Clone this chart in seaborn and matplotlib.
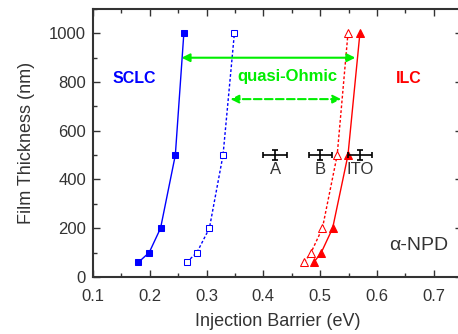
import numpy as np
import pandas as pd
import matplotlib
matplotlib.use("Agg")
import matplotlib.pyplot as plt
import seaborn as sns
from matplotlib.ticker import MultipleLocator

# film thickness (nm) and injection barrier (eV) for each data set
thickness = [60, 100, 200, 500, 1000]
sclc_solid = [0.180, 0.199, 0.219, 0.245, 0.260]
sclc_open = [0.265, 0.283, 0.305, 0.329, 0.349]
ilc_open = [0.472, 0.484, 0.504, 0.530, 0.549]
ilc_solid = [0.489, 0.502, 0.522, 0.549, 0.570]

# electrode barriers with error bars
electrodes = ["A", "B", "ITO"]
electrode_x = [0.421, 0.500, 0.570]
electrode_y = [500, 500, 500]
electrode_xerr = [0.021, 0.020, 0.021]
electrode_yerr = [22, 22, 22]

sns.set_style("ticks")
plt.rcParams["font.family"] = ["Liberation Sans", "DejaVu Sans"]

fig = plt.figure(figsize=(4.58, 3.34), dpi=100)
ax = fig.add_axes([0.203, 0.171, 0.806, 0.802])

df = pd.DataFrame({"thickness": thickness, "sclc_solid": sclc_solid,
                   "sclc_open": sclc_open, "ilc_open": ilc_open,
                   "ilc_solid": ilc_solid})

blue = "#0000ff"
red = "#ff0000"
green = "#00ee00"
txt = "#333333"

sns.lineplot(data=df, x="sclc_solid", y="thickness", ax=ax, color=blue, lw=1,
             marker="s", markersize=4.5, markerfacecolor=blue, markeredgecolor=blue,
             sort=False)
sns.lineplot(data=df, x="sclc_open", y="thickness", ax=ax, color=blue, lw=1,
             linestyle=(0, (2, 1.5)), marker="s", markersize=4.5,
             markerfacecolor="white", markeredgecolor=blue, sort=False)
sns.lineplot(data=df, x="ilc_open", y="thickness", ax=ax, color=red, lw=1,
             linestyle=(0, (2, 1.5)), marker="^", markersize=5.5,
             markerfacecolor="white", markeredgecolor=red, sort=False)
sns.lineplot(data=df, x="ilc_solid", y="thickness", ax=ax, color=red, lw=1,
             marker="^", markersize=5.5, markerfacecolor=red, markeredgecolor=red,
             sort=False)

ax.errorbar(electrode_x, electrode_y, xerr=electrode_xerr, yerr=electrode_yerr,
            fmt="none", ecolor="black", elinewidth=1.2, capsize=2.5, capthick=1.2)
for name, x in zip(electrodes, electrode_x):
    ax.text(x, 470, name, ha="center", va="top", fontsize=12, color=txt)

# quasi-Ohmic arrows
ax.annotate("", xy=(0.256, 900), xytext=(0.562, 900),
            arrowprops=dict(arrowstyle="<|-|>", color=green, lw=1.5,
                            mutation_scale=12, shrinkA=0, shrinkB=0))
ax.annotate("", xy=(0.342, 730), xytext=(0.537, 730),
            arrowprops=dict(arrowstyle="<|-|>", color=green, lw=1.5, ls="--",
                            mutation_scale=12, shrinkA=0, shrinkB=0))

ax.text(0.173, 815, "SCLC", color=blue, fontsize=11.5, fontweight="bold",
        ha="center", va="center")
ax.text(0.443, 822, "quasi-Ohmic", color=green, fontsize=12, fontweight="bold",
        ha="center", va="center")
ax.text(0.656, 815, "ILC", color=red, fontsize=11.5, fontweight="bold",
        ha="center", va="center")
ax.text(0.674, 128, "\u03b1-NPD", color=txt, fontsize=14,
        ha="center", va="center")

ax.set_xlim(0.1, 0.75)
ax.set_ylim(0, 1100)
ax.xaxis.set_minor_locator(MultipleLocator(0.05))
ax.yaxis.set_major_locator(MultipleLocator(200))
ax.yaxis.set_minor_locator(MultipleLocator(100))
ax.set_xticks(np.arange(0.1, 0.71, 0.1))
ax.set_xticklabels(["0.1", "0.2", "0.3", "0.4", "0.5", "0.6", "0.7"])
ax.set_yticks([0, 200, 400, 600, 800, 1000])
ax.tick_params(which="both", direction="in", top=True, right=True,
               labelsize=12, colors=txt)
ax.tick_params(which="major", length=5, width=1)
ax.tick_params(which="minor", length=3, width=1)
ax.tick_params(axis="x", which="major", pad=9)
ax.tick_params(axis="y", which="major", pad=5)
for s in ax.spines.values():
    s.set_linewidth(1.5)
    s.set_color(txt)

ax.set_xlabel("Injection Barrier (eV)", fontsize=13, color=txt, labelpad=6)
ax.set_ylabel("Film Thickness (nm)", fontsize=13, color=txt, labelpad=10)

fig.savefig("out.png", dpi=100)
